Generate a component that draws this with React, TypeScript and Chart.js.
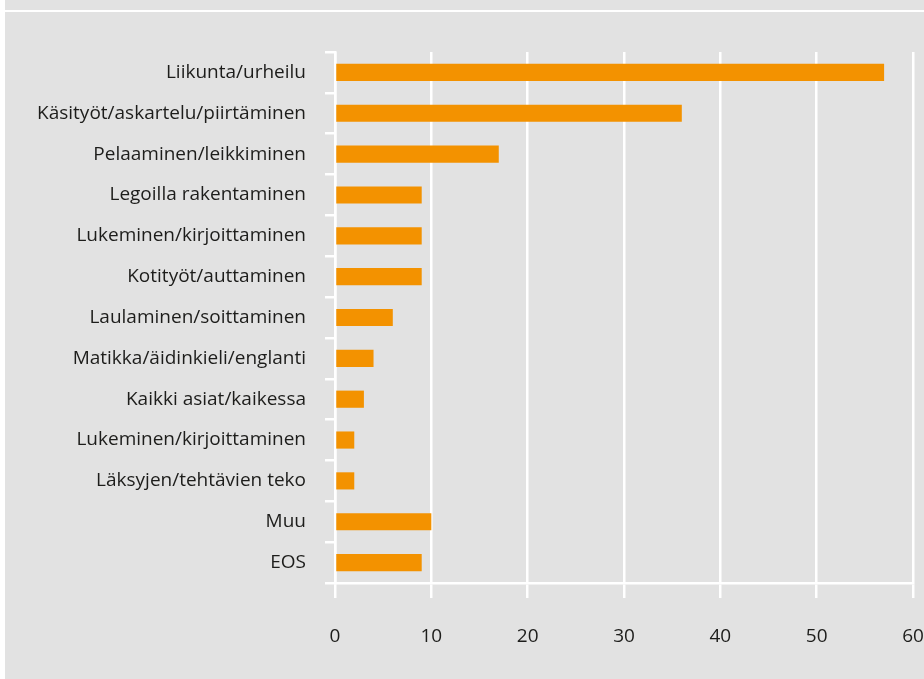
import React, { useEffect, useRef } from "react";
import { Chart, registerables } from "chart.js";

Chart.register(...registerables);

const categories = [
  "Liikunta/urheilu",
  "Käsityöt/askartelu/piirtäminen",
  "Pelaaminen/leikkiminen",
  "Legoilla rakentaminen",
  "Lukeminen/kirjoittaminen",
  "Kotityöt/auttaminen",
  "Laulaminen/soittaminen",
  "Matikka/äidinkieli/englanti",
  "Kaikki asiat/kaikessa",
  "Lukeminen/kirjoittaminen",
  "Läksyjen/tehtävien teko",
  "Muu",
  "EOS",
];

const values = [57, 36, 17, 9, 9, 9, 6, 4, 3, 2, 2, 10, 9];

const xTicks = [0, 10, 20, 30, 40, 50, 60];

const FONT = "'Open Sans', sans-serif";

export default function App() {
  const canvasRef = useRef<HTMLCanvasElement | null>(null);

  useEffect(() => {
    document.body.style.margin = "0";
    const canvas = canvasRef.current;
    if (!canvas) return;
    const chart = new Chart(canvas, {
      type: "bar",
      data: {
        labels: categories,
        datasets: [
          {
            data: values,
            backgroundColor: "#f39200",
            borderWidth: 0,
            categoryPercentage: 1,
            barPercentage: 0.42,
          },
        ],
      },
      options: {
        indexAxis: "y",
        animation: false,
        responsive: false,
        maintainAspectRatio: false,
        layout: { padding: { left: 0, right: 11, top: 52, bottom: 0 } },
        plugins: {
          legend: { display: false },
          tooltip: { enabled: false },
        },
        scales: {
          x: {
            type: "linear",
            min: xTicks[0],
            max: xTicks[xTicks.length - 1],
            afterBuildTicks: (scale: any) => {
              scale.ticks = xTicks.map((v) => ({ value: v }));
            },
            afterFit: (scale: any) => {
              scale.height = 96;
              scale.paddingLeft = 0;
              scale.paddingRight = 0;
            },
            grid: {
              color: "#ffffff",
              lineWidth: 2.5,
              drawOnChartArea: true,
              drawTicks: true,
              tickLength: 15,
            },
            border: { display: true, color: "#ffffff", width: 2.5 },
            ticks: {
              color: "#1d1d1b",
              padding: 27,
              font: { family: FONT, size: 19 },
              maxRotation: 0,
            },
          },
          y: {
            afterFit: (scale: any) => {
              scale.width = 330;
              scale.paddingTop = 0;
              scale.paddingBottom = 0;
            },
            grid: {
              color: "#ffffff",
              lineWidth: 2.5,
              drawOnChartArea: false,
              drawTicks: true,
              tickLength: 10,
              offset: true,
            },
            border: { display: true, color: "#ffffff", width: 2.5 },
            ticks: {
              color: "#1d1d1b",
              padding: 19,
              font: { family: FONT, size: 19 },
              autoSkip: false,
            },
          },
        },
      },
    });
    return () => chart.destroy();
  }, []);

  return (
    <div
      style={{
        position: "fixed",
        left: 0,
        top: 0,
        width: 924,
        height: 679,
        background: "#ffffff",
        overflow: "hidden",
      }}
    >
      <div
        style={{
          position: "absolute",
          left: 5,
          top: 0,
          width: 919,
          height: 679,
          background: "#e2e2e2",
        }}
      >
        <div
          style={{
            position: "absolute",
            left: 0,
            top: 10,
            width: 919,
            height: 2,
            background: "#ffffff",
          }}
        />
        <canvas
          ref={canvasRef}
          width={919}
          height={679}
          style={{ position: "absolute", left: 0, top: 0, width: 919, height: 679 }}
        />
      </div>
    </div>
  );
}
